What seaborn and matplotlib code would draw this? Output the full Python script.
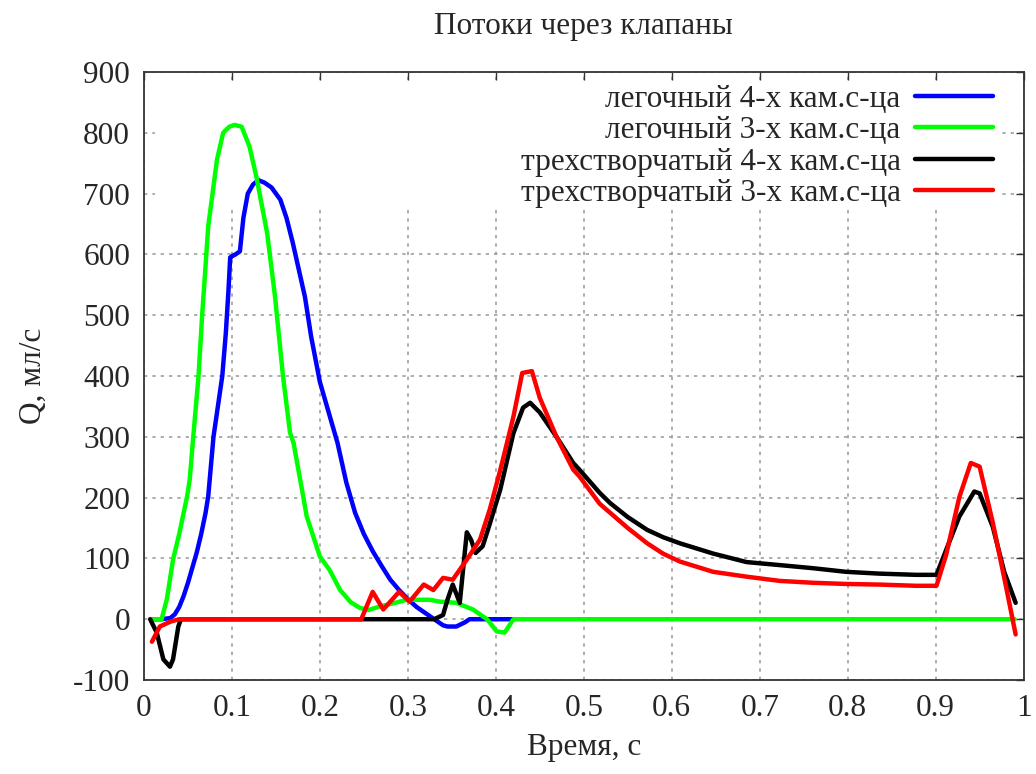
import numpy as np
import pandas as pd
import matplotlib
matplotlib.use("Agg")
import matplotlib.pyplot as plt
from matplotlib.patches import Rectangle
from matplotlib.lines import Line2D
import seaborn as sns

# ---------------- data ----------------
title = "Потоки через клапаны"
x_label = "Время, с"
y_label = "Q, мл/с"

series_names = [
    "легочный 4-х кам.с-ца",
    "легочный 3-х кам.с-ца",
    "трехстворчатый 4-х кам.с-ца",
    "трехстворчатый 3-х кам.с-ца",
]
series_colors = ["#0000ff", "#00ff00", "#000000", "#ff0000"]

pulm4_t = [0.01, 0.02, 0.03, 0.035, 0.04, 0.045, 0.05, 0.055, 0.06, 0.065, 0.07, 0.073,
           0.079, 0.084, 0.089, 0.093, 0.096, 0.098, 0.1, 0.104, 0.109, 0.113, 0.118,
           0.124, 0.13, 0.137, 0.145, 0.155, 0.162, 0.169, 0.176, 0.183, 0.19, 0.2,
           0.21, 0.22, 0.23, 0.24, 0.25, 0.26, 0.27, 0.28, 0.29, 0.3, 0.31, 0.32,
           0.33, 0.34, 0.345, 0.355, 0.365, 0.37, 0.38, 0.42]
pulm4_q = [0, 0, 2, 8, 20, 38, 60, 85, 110, 140, 175, 202,
           300, 350, 400, 470, 540, 595, 597, 600, 605, 660, 700,
           715, 722, 718, 710, 690, 660, 620, 575, 530, 465, 390,
           340, 290, 225, 175, 140, 112, 88, 65, 48, 33, 20, 10,
           0, -10, -12, -12, -5, 0, 0, 0]

pulm3_t = [0.01, 0.02, 0.026, 0.033, 0.04, 0.049, 0.052, 0.056, 0.062, 0.066, 0.069,
           0.073, 0.083, 0.09, 0.097, 0.103, 0.111, 0.12, 0.128, 0.14, 0.149, 0.158,
           0.166, 0.17, 0.181, 0.185, 0.2, 0.211, 0.223, 0.235, 0.245, 0.255, 0.268,
           0.28, 0.299, 0.325, 0.336, 0.355, 0.374, 0.39, 0.401, 0.41, 0.42, 0.99]
pulm3_q = [0, 0, 33, 98, 140, 202, 230, 300, 400, 498, 560,
           646, 756, 800, 810, 813, 810, 777, 726, 635, 530, 400,
           307, 290, 202, 169, 103, 81, 48, 28, 19, 15, 21,
           25, 32, 32, 29, 27, 16, 0, -20, -22, 0, 0]

tric4_t = [0.007, 0.0145, 0.022, 0.0295, 0.033, 0.039, 0.042, 0.33, 0.34, 0.345,
           0.351, 0.359, 0.367, 0.372, 0.377, 0.385, 0.391, 0.405, 0.42, 0.431,
           0.439, 0.45, 0.469, 0.488, 0.495, 0.518, 0.53, 0.55, 0.572, 0.59, 0.609,
           0.647, 0.685, 0.723, 0.76, 0.798, 0.836, 0.878, 0.901, 0.912, 0.927,
           0.944, 0.95, 0.965, 0.978, 0.991]
tric4_q = [0, -22, -66, -78, -66, -12, 0, 0, 7, 32,
           57, 27, 143, 130, 109, 120, 147, 213, 306, 348,
           356, 340, 300, 257, 246, 208, 191, 168, 147, 135, 125,
           108, 94, 89, 84, 78, 75, 73, 73, 114, 169,
           210, 207, 152, 78, 27]

tric3_t = [0.009, 0.018, 0.03, 0.04, 0.247, 0.26, 0.272, 0.29, 0.302, 0.318, 0.329,
           0.34, 0.351, 0.367, 0.382, 0.393, 0.405, 0.42, 0.43, 0.441, 0.45, 0.469,
           0.488, 0.495, 0.518, 0.53, 0.55, 0.572, 0.59, 0.609, 0.647, 0.685, 0.723,
           0.76, 0.798, 0.836, 0.878, 0.901, 0.912, 0.927, 0.94, 0.95, 0.965, 0.98,
           0.991]
tric3_q = [-37, -12, -4, 0, 0, 45, 16, 45, 29, 57, 48,
           68, 65, 98, 131, 180, 245, 333, 405, 408, 364, 300,
           246, 235, 190, 175, 150, 125, 108, 95, 78, 70, 63,
           60, 58, 57, 55, 55, 106, 201, 257, 251, 159, 54,
           -25]

x_ticks = [0, 0.1, 0.2, 0.3, 0.4, 0.5, 0.6, 0.7, 0.8, 0.9, 1]
x_tick_labels = ["0", "0.1", "0.2", "0.3", "0.4", "0.5", "0.6", "0.7", "0.8", "0.9", "1"]
y_ticks = [-100, 0, 100, 200, 300, 400, 500, 600, 700, 800, 900]

# ---------------- build table ----------------
frames = []
for name, t, q in zip(series_names,
                      [pulm4_t, pulm3_t, tric4_t, tric3_t],
                      [pulm4_q, pulm3_q, tric4_q, tric3_q]):
    frames.append(pd.DataFrame({"t": t, "Q": q, "series": name}))
df = pd.concat(frames, ignore_index=True)

# ---------------- style ----------------
sns.set_theme(style="white")
plt.rcParams["font.family"] = ["Liberation Serif", "DejaVu Serif"]
plt.rcParams["axes.unicode_minus"] = False

FS = 22.5

fig = plt.figure(figsize=(10.36, 7.74), dpi=100)
ax = fig.add_axes([0.139, 0.1214, 0.849, 0.7856])

sns.lineplot(data=df, x="t", y="Q", hue="series", hue_order=series_names,
             palette=series_colors, estimator=None, sort=False,
             linewidth=3.2, legend=False, ax=ax)
for ln in ax.lines:
    ln.set_solid_joinstyle("round")
    ln.set_zorder(2)

ax.set_xlim(0, 1)
ax.set_ylim(-100, 900)
ax.set_xticks(x_ticks)
ax.set_xticklabels(x_tick_labels)
ax.set_yticks(y_ticks)
ax.tick_params(axis="both", which="both", direction="in", length=6, width=1,
               color="#333333", top=True, right=True, labelsize=FS, pad=10)
for s in ax.spines.values():
    s.set_color("#333333")
    s.set_linewidth(1.3)

ax.set_axisbelow(True)
ax.grid(True, color="#a0a0a0", linestyle=(0, (2, 3)), linewidth=1.2)

# opaque key area (covers grid behind the key, as in the original)
ax.add_patch(Rectangle((0.012, 0.78), 0.963, 0.205, transform=ax.transAxes,
                       facecolor="white", edgecolor="none", zorder=1))

ax.set_title(title, fontsize=FS, pad=27)
ax.set_xlabel(x_label, fontsize=FS, labelpad=7)
ax.set_ylabel(y_label, fontsize=FS, labelpad=18)

handles = [Line2D([], [], color=c, lw=3.2) for c in series_colors]
leg = ax.legend(handles, series_names, loc="upper right",
                bbox_to_anchor=(0.965, 0.979), markerfirst=False, frameon=False,
                fontsize=FS, handlelength=2.5, handletextpad=0.45,
                labelspacing=0.08, borderaxespad=0, borderpad=0)
leg.set_zorder(3)

fig.savefig("out.png", dpi=100)
